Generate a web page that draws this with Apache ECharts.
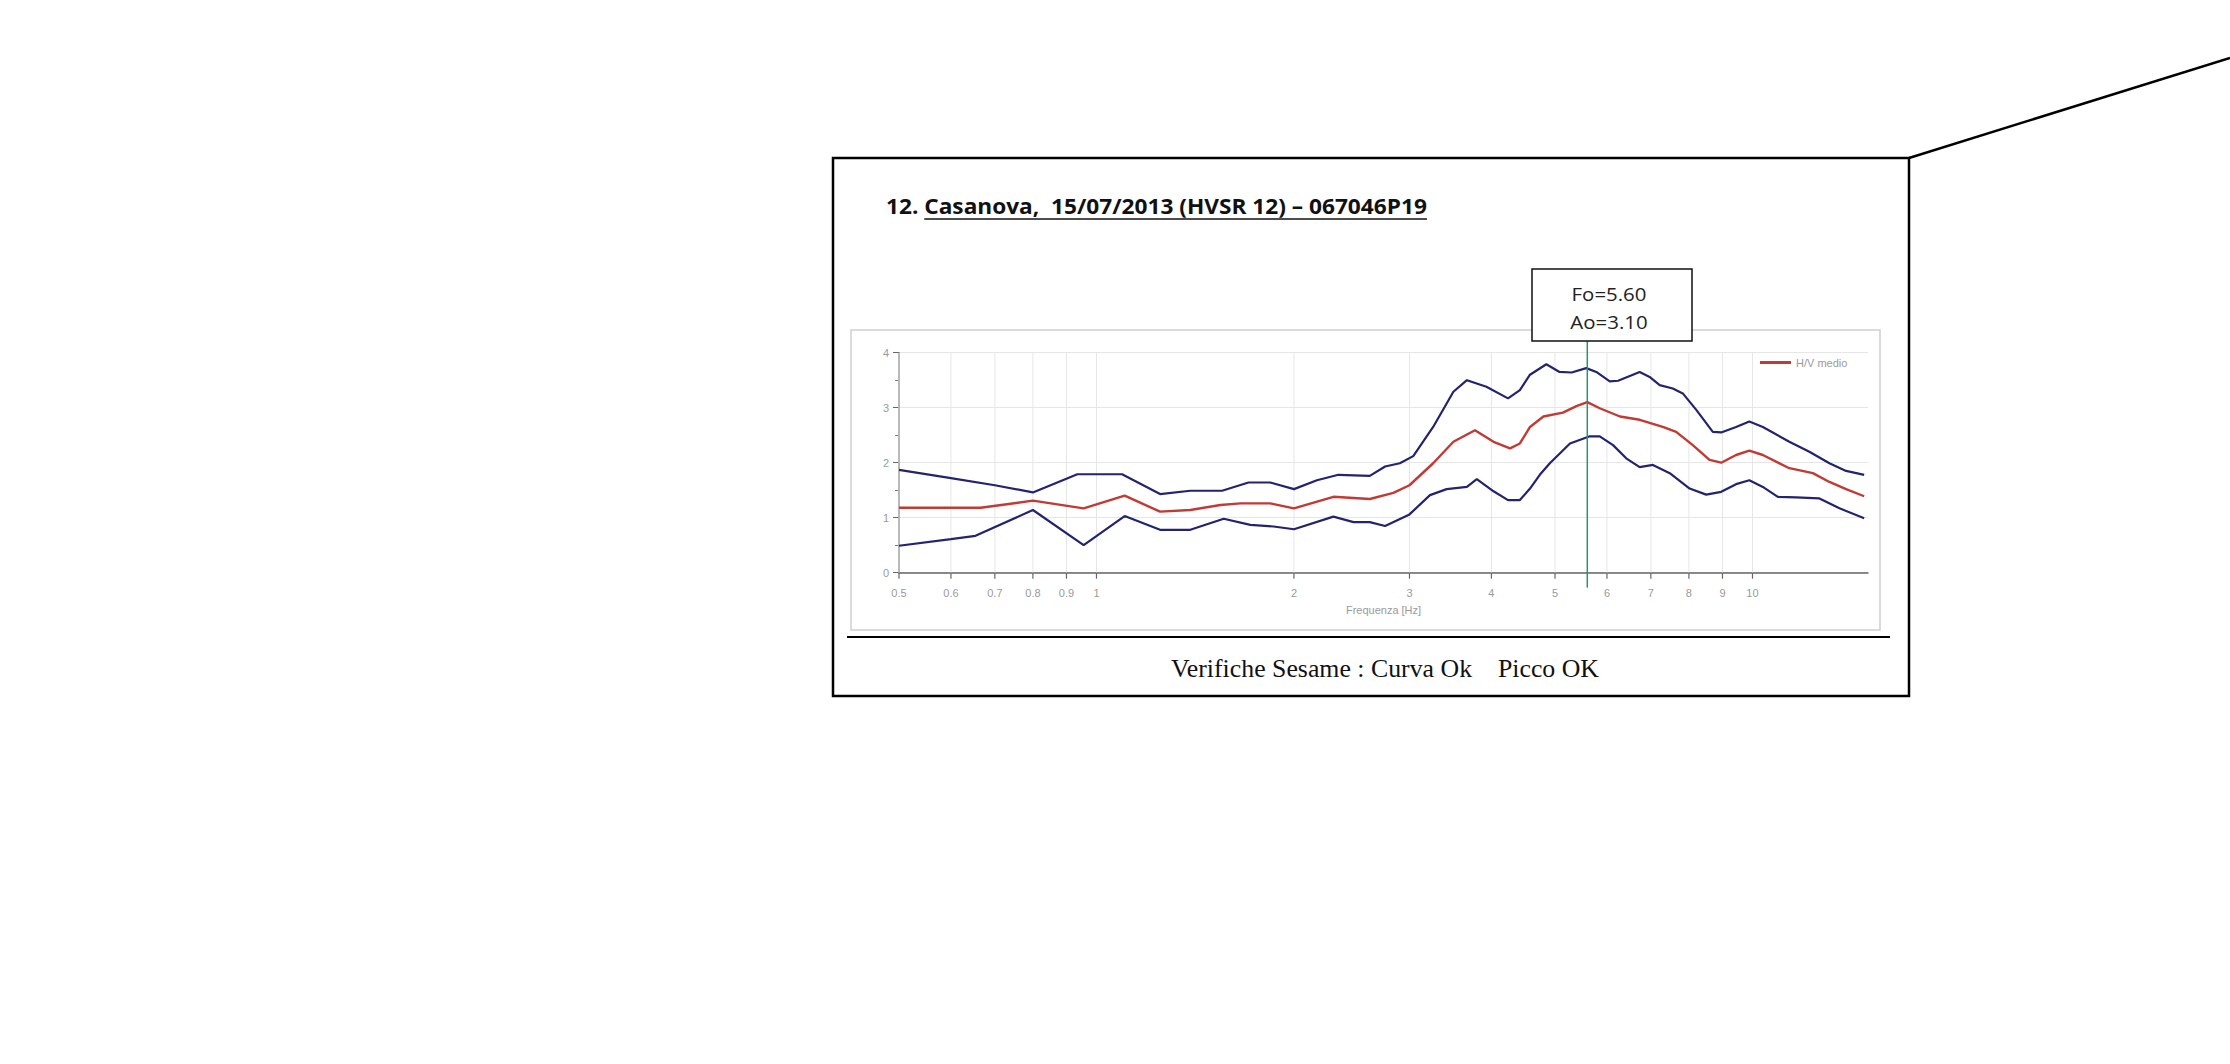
<!DOCTYPE html>
<html>
<head>
<meta charset="utf-8">
<script src="https://cdn.jsdelivr.net/npm/echarts@6.0.0/dist/echarts.min.js"></script>
<style>
html,body{margin:0;padding:0;background:#fff;}
#chart{width:2230px;height:1064px;}
</style>
</head>
<body>
<div id="chart"></div>
<script>
// ---------- data ----------
const freqUpper = [0.5,0.6,0.7,0.8,0.935,1.094,1.25,1.39,1.554,1.705,1.84,2.0,2.168,2.338,2.61,2.754,2.90,3.04,3.26,3.50,3.67,3.93,4.24,4.42,4.58,4.85,5.08,5.30,5.58,5.78,6.06,6.24,6.73,6.97,7.22,7.56,7.83,8.21,8.70,8.96,9.44,9.89,10.37,11.38,12.21,13.10,13.89,14.8];
const hvUpper   = [1.87,1.72,1.59,1.46,1.79,1.79,1.43,1.49,1.49,1.64,1.64,1.52,1.68,1.78,1.76,1.93,1.99,2.12,2.65,3.29,3.50,3.38,3.17,3.32,3.60,3.79,3.65,3.64,3.72,3.65,3.48,3.49,3.65,3.56,3.41,3.35,3.26,2.96,2.56,2.55,2.65,2.75,2.65,2.38,2.20,1.99,1.85,1.78];

const freqMean = [0.5,0.666,0.8,0.956,1.104,1.25,1.39,1.545,1.657,1.84,2.0,2.297,2.61,2.835,3.0,3.26,3.50,3.775,4.03,4.27,4.42,4.58,4.80,5.14,5.39,5.60,5.85,6.28,6.73,7.30,7.65,8.11,8.60,8.96,9.44,9.89,10.37,11.38,12.36,13.10,13.89,14.8];
const hvMean   = [1.18,1.18,1.31,1.17,1.40,1.11,1.14,1.23,1.26,1.26,1.17,1.38,1.34,1.45,1.59,1.99,2.38,2.59,2.38,2.26,2.35,2.65,2.84,2.91,3.03,3.10,2.99,2.84,2.78,2.65,2.56,2.32,2.05,2.00,2.14,2.22,2.14,1.90,1.81,1.65,1.52,1.39];

const freqLower = [0.5,0.6,0.654,0.8,0.956,1.104,1.25,1.39,1.563,1.716,1.862,2.0,2.297,2.465,2.61,2.754,3.0,3.224,3.418,3.67,3.80,4.03,4.24,4.42,4.58,4.74,4.91,5.27,5.65,5.85,6.13,6.42,6.73,7.05,7.48,8.02,8.50,8.96,9.44,9.89,10.37,10.93,11.65,12.65,13.57,14.8];
const hvLower   = [0.49,0.61,0.67,1.14,0.50,1.03,0.78,0.78,0.98,0.87,0.84,0.79,1.02,0.92,0.92,0.85,1.06,1.41,1.52,1.56,1.70,1.48,1.32,1.32,1.53,1.78,1.99,2.35,2.48,2.48,2.32,2.08,1.92,1.96,1.81,1.53,1.42,1.47,1.61,1.68,1.56,1.38,1.37,1.35,1.17,0.99];

const xTickValues = [0.5,0.6,0.7,0.8,0.9,1,2,3,4,5,6,7,8,9,10];
const xTickLabels = ['0.5','0.6','0.7','0.8','0.9','1','2','3','4','5','6','7','8','9','10'];
const yTickLabels = ['0','1','2','3','4'];

const peakFreq = 5.60;
const peakAmp = 3.10;

const titlePrefix = '12. ';
const titleMain = 'Casanova,\u00a0\u00a015/07/2013 (HVSR 12) \u2013 067046P19';
const footerText = 'Verifiche Sesame : Curva Ok\u00a0\u00a0\u00a0\u00a0Picco OK';
const legendName = 'H/V medio';
const xAxisName = 'Frequenza [Hz]';

// ---------- helpers ----------
const mctx = document.createElement('canvas').getContext('2d');
function textW(str, font){ mctx.font = font; return mctx.measureText(str).width; }
const pairs = (xs, ys) => xs.map((x, i) => [x, ys[i]]);

const chart = echarts.init(document.getElementById('chart'), null, {renderer: 'svg'});

const GRID = {left: 899, top: 352.7, width: 969, height: 220};
const BLUE = '#23236f';
const RED = '#c23a33';

// title metrics
const titleFont = 'bold 22px "Open Sans"';
const titleFull = titlePrefix + titleMain;
const titleScale = 541 / textW(titleFull, titleFont);
const titleLeft = 886;
const ulStart = titleLeft + textW(titlePrefix, titleFont) * titleScale;
const ulEnd = titleLeft + 541;

const footFont = '25px "Liberation Serif"';
const footScale = 428 / textW(footerText, footFont);

const boxFont = '19px "Open Sans"';
const boxLine1 = 'Fo=' + peakFreq.toFixed(2);
const boxLine2 = 'Ao=' + peakAmp.toFixed(2);
const boxScale = 75 / textW(boxLine1, boxFont);

const option = {
  animation: false,
  backgroundColor: '#fff',
  grid: {left: GRID.left, top: GRID.top, width: GRID.width, height: GRID.height, containLabel: false},
  legend: {
    data: [{name: legendName, icon: 'rect'}],
    left: 1755, top: 352, itemWidth: 31, itemHeight: 3, itemGap: 4,
    textStyle: {color: '#9a9a9a', fontSize: 11, fontFamily: 'Liberation Sans'}
  },
  xAxis: {
    type: 'log', logBase: 10, min: 0.5, max: 15,
    axisLine: {show: true, lineStyle: {color: '#666', width: 1.5}},
    axisTick: {show: false}, axisLabel: {show: false}, splitLine: {show: false},
    name: xAxisName, nameLocation: 'middle', nameGap: 32,
    nameTextStyle: {color: '#9a9a9a', fontSize: 11, fontFamily: 'Liberation Sans'}
  },
  yAxis: {
    type: 'value', min: 0, max: 4, interval: 1,
    axisLine: {show: true, lineStyle: {color: '#666', width: 1.5}},
    axisTick: {show: true, length: 6, lineStyle: {color: '#666'}},
    minorTick: {show: true, splitNumber: 2, length: 4, lineStyle: {color: '#777'}},
    axisLabel: {color: '#9a9a9a', fontSize: 11, margin: 10, fontFamily: 'Liberation Sans',
      formatter: v => yTickLabels[Math.round(v)]},
    splitLine: {show: true, lineStyle: {color: '#e6e6e6', width: 1}}
  },
  series: [
    {
      type: 'custom', name: 'xticks', silent: true, clip: false, z: 1,
      data: xTickValues.map(v => [v, 0]),
      renderItem: function (params, api) {
        const v = api.value(0);
        const pb = api.coord([v, 0]);
        const pt = api.coord([v, 4]);
        return {
          type: 'group',
          children: [
            {type: 'line', shape: {x1: pb[0], y1: pb[1], x2: pt[0], y2: pt[1]}, style: {stroke: '#e6e6e6', lineWidth: 1}},
            {type: 'line', shape: {x1: pb[0], y1: pb[1], x2: pb[0], y2: pb[1] + 6}, style: {stroke: '#666', lineWidth: 1.2}},
            {type: 'text', x: pb[0], y: pb[1] + 20, style: {text: xTickLabels[params.dataIndex], fill: '#9a9a9a', fontSize: 11, fontFamily: 'Liberation Sans', align: 'center', verticalAlign: 'middle'}}
          ]
        };
      }
    },
    {type: 'line', name: 'H/V max', data: pairs(freqUpper, hvUpper), symbol: 'none', z: 3,
      lineStyle: {color: BLUE, width: 2.2}, itemStyle: {color: BLUE}},
    {type: 'line', name: 'H/V min', data: pairs(freqLower, hvLower), symbol: 'none', z: 3,
      lineStyle: {color: BLUE, width: 2.2}, itemStyle: {color: BLUE}},
    {type: 'line', name: legendName, data: pairs(freqMean, hvMean), symbol: 'none', z: 4,
      lineStyle: {color: RED, width: 2.4}, itemStyle: {color: RED}}
  ]
};
chart.setOption(option);

const peakX = chart.convertToPixel({xAxisIndex: 0}, peakFreq);
const axisY = chart.convertToPixel({yAxisIndex: 0}, 0);

const BOX = {x: 1532, y: 269, w: 160, h: 72};
const boxCx = 1609;

chart.setOption({
  graphic: [
    // outer frame
    {type: 'rect', shape: {x: 833, y: 158, width: 1076, height: 538}, style: {fill: 'none', stroke: '#000', lineWidth: 2.5}, z: 10},
    {type: 'line', shape: {x1: 1909, y1: 158, x2: 2230, y2: 58}, style: {stroke: '#000', lineWidth: 2.5}, z: 10},
    // chart panel border
    {type: 'rect', shape: {x: 851, y: 330, width: 1029, height: 300}, style: {fill: 'none', stroke: '#cfcfcf', lineWidth: 1.5}, z: 0},
    // separator
    {type: 'line', shape: {x1: 847, y1: 637, x2: 1890, y2: 637}, style: {stroke: '#000', lineWidth: 2}, z: 10},
    // title
    {type: 'text', x: titleLeft, y: 205.5, scaleX: titleScale, style: {text: titleFull, font: titleFont, fill: '#111', align: 'left', verticalAlign: 'middle'}, z: 10},
    {type: 'line', shape: {x1: ulStart, y1: 219, x2: ulEnd, y2: 219}, style: {stroke: '#111', lineWidth: 1.6}, z: 10},
    // peak line
    {type: 'line', shape: {x1: peakX, y1: BOX.y + BOX.h, x2: peakX, y2: axisY + 15}, style: {stroke: '#2e9070', lineWidth: 1.5}, z: 20},
    // peak box
    {type: 'rect', shape: {x: BOX.x, y: BOX.y, width: BOX.w, height: BOX.h}, style: {fill: '#fff', stroke: '#111', lineWidth: 1.5}, z: 21},
    {type: 'text', x: boxCx, y: 294, scaleX: boxScale, style: {text: boxLine1, font: boxFont, fill: '#222', align: 'center', verticalAlign: 'middle'}, z: 22},
    {type: 'text', x: boxCx, y: 321.5, scaleX: boxScale, style: {text: boxLine2, font: boxFont, fill: '#222', align: 'center', verticalAlign: 'middle'}, z: 22},
    // footer
    {type: 'text', x: 1171, y: 668, scaleX: footScale, style: {text: footerText, font: footFont, fill: '#111', align: 'left', verticalAlign: 'middle'}, z: 10}
  ]
});
</script>
</body>
</html>
